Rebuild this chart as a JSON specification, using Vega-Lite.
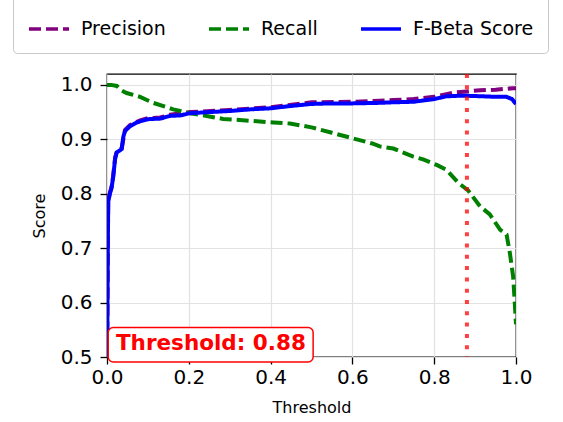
{
  "$schema": "https://vega.github.io/schema/vega-lite/v6.json",
  "width": 409,
  "height": 283,
  "autosize": {"type": "none"},
  "padding": {"left": 107, "top": 74, "right": 47, "bottom": 65},
  "background": "white",
  "config": {
    "font": "DejaVu Sans",
    "view": {"stroke": "black", "strokeWidth": 1.3},
    "axis": {
      "labelFont": "DejaVu Sans",
      "titleFont": "DejaVu Sans",
      "labelFontSize": 20,
      "titleFontSize": 16,
      "titleFontWeight": "normal",
      "labelColor": "black",
      "titleColor": "black",
      "tickColor": "black",
      "tickSize": 7,
      "tickWidth": 1.3,
      "domain": false,
      "grid": true,
      "gridColor": "#e2e2e2",
      "gridWidth": 1.2,
      "labelFlush": false,
      "labelOverlap": false
    },
    "legend": {
      "orient": "none",
      "legendX": -94,
      "legendY": -81,
      "direction": "horizontal",
      "columns": 3,
      "strokeColor": "#c8c8c8",
      "fillColor": "white",
      "cornerRadius": 4,
      "padding": 14,
      "symbolType": "stroke",
      "symbolSize": 1600,
      "symbolStrokeWidth": 3.5,
      "labelFont": "DejaVu Sans",
      "labelFontSize": 19,
      "labelColor": "black",
      "labelOffset": 10,
      "labelLimit": 300,
      "columnPadding": 36
    }
  },
  "datasets": {
    "curves": [
      {"t": 0.0, "v": 0.45, "s": "Precision"},
      {"t": 0.002, "v": 0.70, "s": "Precision"},
      {"t": 0.003, "v": 0.787, "s": "Precision"},
      {"t": 0.007, "v": 0.802, "s": "Precision"},
      {"t": 0.011, "v": 0.812, "s": "Precision"},
      {"t": 0.015, "v": 0.832, "s": "Precision"},
      {"t": 0.02, "v": 0.867, "s": "Precision"},
      {"t": 0.024, "v": 0.878, "s": "Precision"},
      {"t": 0.036, "v": 0.884, "s": "Precision"},
      {"t": 0.044, "v": 0.917, "s": "Precision"},
      {"t": 0.056, "v": 0.926, "s": "Precision"},
      {"t": 0.081, "v": 0.935, "s": "Precision"},
      {"t": 0.1, "v": 0.939, "s": "Precision"},
      {"t": 0.13, "v": 0.94, "s": "Precision"},
      {"t": 0.154, "v": 0.945, "s": "Precision"},
      {"t": 0.203, "v": 0.95, "s": "Precision"},
      {"t": 0.3, "v": 0.954, "s": "Precision"},
      {"t": 0.4, "v": 0.959, "s": "Precision"},
      {"t": 0.5, "v": 0.968, "s": "Precision"},
      {"t": 0.6, "v": 0.969, "s": "Precision"},
      {"t": 0.667, "v": 0.971, "s": "Precision"},
      {"t": 0.7, "v": 0.972, "s": "Precision"},
      {"t": 0.75, "v": 0.974, "s": "Precision"},
      {"t": 0.8, "v": 0.978, "s": "Precision"},
      {"t": 0.83, "v": 0.983, "s": "Precision"},
      {"t": 0.847, "v": 0.986, "s": "Precision"},
      {"t": 0.88, "v": 0.988, "s": "Precision"},
      {"t": 0.912, "v": 0.99, "s": "Precision"},
      {"t": 0.95, "v": 0.991, "s": "Precision"},
      {"t": 0.993, "v": 0.994, "s": "Precision"},
      {"t": 1.0, "v": 0.994, "s": "Precision"},

      {"t": 0.0, "v": 1.0, "s": "Recall"},
      {"t": 0.01, "v": 1.0, "s": "Recall"},
      {"t": 0.024, "v": 0.998, "s": "Recall"},
      {"t": 0.035, "v": 0.99, "s": "Recall"},
      {"t": 0.048, "v": 0.985, "s": "Recall"},
      {"t": 0.081, "v": 0.978, "s": "Recall"},
      {"t": 0.113, "v": 0.967, "s": "Recall"},
      {"t": 0.162, "v": 0.955, "s": "Recall"},
      {"t": 0.203, "v": 0.948, "s": "Recall"},
      {"t": 0.25, "v": 0.942, "s": "Recall"},
      {"t": 0.284, "v": 0.9375, "s": "Recall"},
      {"t": 0.35, "v": 0.934, "s": "Recall"},
      {"t": 0.407, "v": 0.931, "s": "Recall"},
      {"t": 0.447, "v": 0.929, "s": "Recall"},
      {"t": 0.5, "v": 0.922, "s": "Recall"},
      {"t": 0.55, "v": 0.912, "s": "Recall"},
      {"t": 0.6, "v": 0.902, "s": "Recall"},
      {"t": 0.65, "v": 0.892, "s": "Recall"},
      {"t": 0.667, "v": 0.887, "s": "Recall"},
      {"t": 0.7, "v": 0.883, "s": "Recall"},
      {"t": 0.749, "v": 0.868, "s": "Recall"},
      {"t": 0.773, "v": 0.863, "s": "Recall"},
      {"t": 0.806, "v": 0.853, "s": "Recall"},
      {"t": 0.83, "v": 0.844, "s": "Recall"},
      {"t": 0.859, "v": 0.82, "s": "Recall"},
      {"t": 0.883, "v": 0.806, "s": "Recall"},
      {"t": 0.912, "v": 0.777, "s": "Recall"},
      {"t": 0.936, "v": 0.762, "s": "Recall"},
      {"t": 0.961, "v": 0.734, "s": "Recall"},
      {"t": 0.977, "v": 0.725, "s": "Recall"},
      {"t": 0.985, "v": 0.691, "s": "Recall"},
      {"t": 0.993, "v": 0.648, "s": "Recall"},
      {"t": 0.997, "v": 0.6, "s": "Recall"},
      {"t": 1.0, "v": 0.56, "s": "Recall"},

      {"t": 0.0, "v": 0.45, "s": "F-Beta Score"},
      {"t": 0.002, "v": 0.70, "s": "F-Beta Score"},
      {"t": 0.003, "v": 0.785, "s": "F-Beta Score"},
      {"t": 0.007, "v": 0.80, "s": "F-Beta Score"},
      {"t": 0.011, "v": 0.81, "s": "F-Beta Score"},
      {"t": 0.015, "v": 0.83, "s": "F-Beta Score"},
      {"t": 0.02, "v": 0.865, "s": "F-Beta Score"},
      {"t": 0.024, "v": 0.876, "s": "F-Beta Score"},
      {"t": 0.03, "v": 0.879, "s": "F-Beta Score"},
      {"t": 0.036, "v": 0.882, "s": "F-Beta Score"},
      {"t": 0.04, "v": 0.905, "s": "F-Beta Score"},
      {"t": 0.044, "v": 0.915, "s": "F-Beta Score"},
      {"t": 0.056, "v": 0.924, "s": "F-Beta Score"},
      {"t": 0.07, "v": 0.93, "s": "F-Beta Score"},
      {"t": 0.081, "v": 0.933, "s": "F-Beta Score"},
      {"t": 0.1, "v": 0.937, "s": "F-Beta Score"},
      {"t": 0.13, "v": 0.938, "s": "F-Beta Score"},
      {"t": 0.154, "v": 0.943, "s": "F-Beta Score"},
      {"t": 0.18, "v": 0.944, "s": "F-Beta Score"},
      {"t": 0.203, "v": 0.948, "s": "F-Beta Score"},
      {"t": 0.25, "v": 0.95, "s": "F-Beta Score"},
      {"t": 0.3, "v": 0.952, "s": "F-Beta Score"},
      {"t": 0.35, "v": 0.955, "s": "F-Beta Score"},
      {"t": 0.4, "v": 0.957, "s": "F-Beta Score"},
      {"t": 0.447, "v": 0.961, "s": "F-Beta Score"},
      {"t": 0.5, "v": 0.965, "s": "F-Beta Score"},
      {"t": 0.55, "v": 0.966, "s": "F-Beta Score"},
      {"t": 0.6, "v": 0.966, "s": "F-Beta Score"},
      {"t": 0.667, "v": 0.967, "s": "F-Beta Score"},
      {"t": 0.7, "v": 0.968, "s": "F-Beta Score"},
      {"t": 0.75, "v": 0.969, "s": "F-Beta Score"},
      {"t": 0.8, "v": 0.974, "s": "F-Beta Score"},
      {"t": 0.83, "v": 0.979, "s": "F-Beta Score"},
      {"t": 0.86, "v": 0.98, "s": "F-Beta Score"},
      {"t": 0.879, "v": 0.98, "s": "F-Beta Score"},
      {"t": 0.92, "v": 0.979, "s": "F-Beta Score"},
      {"t": 0.95, "v": 0.978, "s": "F-Beta Score"},
      {"t": 0.977, "v": 0.978, "s": "F-Beta Score"},
      {"t": 0.99, "v": 0.974, "s": "F-Beta Score"},
      {"t": 1.0, "v": 0.965, "s": "F-Beta Score"}
    ],
    "thr": [{"t": 0.88}],
    "note": [{"x1": 0.003, "x2": 0.504, "y1": 0.491, "y2": 0.554, "tx": 0.254, "ty": 0.5125, "label": "Threshold: 0.88"}]
  },
  "layer": [
    {
      "data": {"name": "curves"},
      "mark": {"type": "line", "strokeWidth": 4, "clip": true},
      "encoding": {
        "x": {"field": "t", "type": "quantitative", "scale": {"domain": [0, 1], "nice": false, "zero": false},
              "axis": {"title": "Threshold", "values": [0, 0.2, 0.4, 0.6, 0.8, 1.0], "format": ".1f", "labelPadding": 3, "titlePadding": 12}},
        "y": {"field": "v", "type": "quantitative", "scale": {"domain": [0.5, 1.02], "nice": false, "zero": false},
              "axis": {"title": "Score", "values": [0.5, 0.6, 0.7, 0.8, 0.9, 1.0], "format": ".1f", "labelPadding": 8, "titlePadding": 13}},
        "color": {"field": "s", "type": "nominal", "title": null,
                  "scale": {"domain": ["Precision", "Recall", "F-Beta Score"], "range": ["#800080", "#008000", "#0000ff"]}},
        "strokeDash": {"field": "s", "type": "nominal", "title": null,
                  "scale": {"domain": ["Precision", "Recall", "F-Beta Score"], "range": [[12, 5], [12, 5], [1, 0]]}},
        "order": {"field": "t", "type": "quantitative"}
      }
    },
    {
      "data": {"name": "thr"},
      "mark": {"type": "rule", "color": "red", "opacity": 0.75, "strokeWidth": 4, "strokeDash": [4, 7.3]},
      "encoding": {"x": {"field": "t", "type": "quantitative"}}
    },
    {
      "data": {"name": "note"},
      "mark": {"type": "rect", "fill": "white", "stroke": "red", "strokeWidth": 1.5, "cornerRadius": 5},
      "encoding": {
        "x": {"field": "x1", "type": "quantitative"},
        "x2": {"field": "x2"},
        "y": {"field": "y1", "type": "quantitative"},
        "y2": {"field": "y2"}
      }
    },
    {
      "data": {"name": "note"},
      "mark": {"type": "text", "color": "red", "fontWeight": "bold", "fontSize": 21.5, "font": "DejaVu Sans", "align": "center", "baseline": "alphabetic"},
      "encoding": {
        "x": {"field": "tx", "type": "quantitative"},
        "y": {"field": "ty", "type": "quantitative"},
        "text": {"field": "label"}
      }
    }
  ]
}
